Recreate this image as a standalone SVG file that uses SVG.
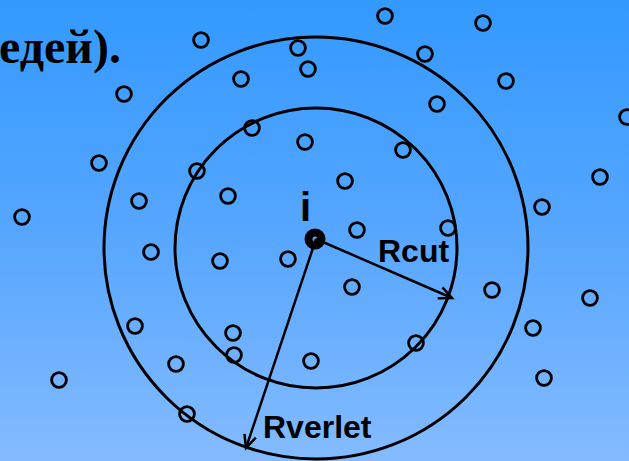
<svg xmlns="http://www.w3.org/2000/svg" width="629" height="461" viewBox="0 0 629 461">
<defs>
<linearGradient id="bg" x1="0" y1="0" x2="0" y2="1">
<stop offset="0" stop-color="#3399FF"/>
<stop offset="0.5" stop-color="#56A6FF"/>
<stop offset="1" stop-color="#84BBFF"/>
</linearGradient>
<marker id="arr" markerUnits="userSpaceOnUse" viewBox="-16 -10 20 20" markerWidth="20" markerHeight="20" refX="0" refY="0" orient="auto">
<path d="M-13,-6 L0,0 L-13,6" fill="none" stroke="#000" stroke-width="2.5"/>
</marker>
<style>
.p{fill:none;stroke:#000;stroke-width:2.8}
.ring{fill:none;stroke:#000;stroke-width:3}
.lab{font-family:"Liberation Sans",Arial,sans-serif;font-weight:bold;fill:#000}
.ttl{font-family:"Liberation Serif","Times New Roman",serif;font-weight:bold;fill:#000}
.arrow{stroke:#000;stroke-width:2.5;fill:none;marker-end:url(#arr)}
</style>
</defs>
<rect x="0" y="0" width="629" height="461" fill="url(#bg)"/>
<text class="ttl" x="-1" y="63" font-size="48">едей).</text>
<g id="verlet-sphere"><ellipse class="ring" cx="316" cy="248" rx="212" ry="211"/></g>
<g id="cut-sphere"><ellipse class="ring" cx="316" cy="248" rx="141" ry="140"/></g>
<g id="particles">
<circle class="p" cx="385" cy="16" r="7.4"/>
<circle class="p" cx="483" cy="23" r="7.4"/>
<circle class="p" cx="201" cy="40" r="7.4"/>
<circle class="p" cx="298" cy="48" r="7.4"/>
<circle class="p" cx="425" cy="54" r="7.4"/>
<circle class="p" cx="308" cy="69" r="7.4"/>
<circle class="p" cx="241" cy="79" r="7.4"/>
<circle class="p" cx="506" cy="81" r="7.4"/>
<circle class="p" cx="124" cy="94" r="7.4"/>
<circle class="p" cx="437" cy="104" r="7.4"/>
<circle class="p" cx="627" cy="117" r="7.4"/>
<circle class="p" cx="252" cy="128" r="7.4"/>
<circle class="p" cx="305" cy="142" r="7.4"/>
<circle class="p" cx="403" cy="150" r="7.4"/>
<circle class="p" cx="99" cy="163" r="7.4"/>
<circle class="p" cx="197" cy="171" r="7.4"/>
<circle class="p" cx="345" cy="181" r="7.4"/>
<circle class="p" cx="600" cy="177" r="7.4"/>
<circle class="p" cx="139" cy="201" r="7.4"/>
<circle class="p" cx="228" cy="196" r="7.4"/>
<circle class="p" cx="542" cy="207" r="7.4"/>
<circle class="p" cx="22" cy="217" r="7.4"/>
<circle class="p" cx="357" cy="230" r="7.4"/>
<circle class="p" cx="448" cy="228" r="7.4"/>
<circle class="p" cx="151" cy="252" r="7.4"/>
<circle class="p" cx="220" cy="261" r="7.4"/>
<circle class="p" cx="288" cy="259" r="7.4"/>
<circle class="p" cx="352" cy="287" r="7.4"/>
<circle class="p" cx="492" cy="290" r="7.4"/>
<circle class="p" cx="590" cy="298" r="7.4"/>
<circle class="p" cx="135" cy="326" r="7.4"/>
<circle class="p" cx="233" cy="333" r="7.4"/>
<circle class="p" cx="533" cy="328" r="7.4"/>
<circle class="p" cx="416" cy="343" r="7.4"/>
<circle class="p" cx="234" cy="355" r="7.4"/>
<circle class="p" cx="311" cy="361" r="7.4"/>
<circle class="p" cx="176" cy="364" r="7.4"/>
<circle class="p" cx="59" cy="380" r="7.4"/>
<circle class="p" cx="544" cy="378" r="7.4"/>
<circle class="p" cx="187" cy="414" r="7.4"/>
</g>
<g id="connectors">
<line class="arrow" x1="316" y1="239" x2="452" y2="298"/>
<line class="arrow" x1="316" y1="239" x2="246" y2="448"/>
</g>
<g id="particle-i">
<circle cx="315" cy="239" r="6.5" fill="none" stroke="#000" stroke-width="8"/>
<text class="lab" x="300" y="221" font-size="40">i</text>
</g>
<g id="label-rcut"><text class="lab" x="378" y="262" font-size="32">Rcut</text></g>
<g id="label-rverlet"><text class="lab" x="263" y="438" font-size="32">Rverlet</text></g>
</svg>
